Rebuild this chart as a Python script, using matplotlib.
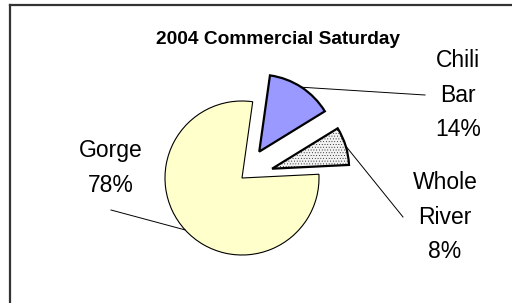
import numpy as np
import matplotlib
matplotlib.use("Agg")
import matplotlib.pyplot as plt
from matplotlib.lines import Line2D

plt.rcParams["font.family"] = ["Liberation Sans", "DejaVu Sans"]
plt.rcParams["hatch.color"] = "#c8c8c8"
plt.rcParams["hatch.linewidth"] = 0.25

title = "2004 Commercial Saturday"
categories = ["Chili Bar", "Whole River", "Gorge"]
label_lines = ["Chili\nBar\n14%", "Whole\nRiver\n8%", "Gorge\n78%"]
shares = [14, 8, 78]
colors = ["#9999ff", "#f2f2f2", "#ffffcc"]

H = 303


def py(y):
    # pixel row (top-down) -> data y (bottom-up)
    return H - y


fig = plt.figure(figsize=(5.12, 3.03), dpi=100)
ax = fig.add_axes([0, 0, 1, 1])

center = (242, py(178))
radius = 77
explode = [31.5, 31.5, 0.0]  # pie explode is in data units here
wedges, _ = ax.pie(shares, colors=colors, explode=explode, startangle=82,
                   counterclock=False, center=center, radius=radius,
                   wedgeprops=dict(edgecolor="black"))
wedges[0].set_linewidth(1.6)
wedges[1].set_linewidth(1.6)
wedges[1].set_hatch("......")
wedges[2].set_linewidth(0.8)

ax.set_xlim(0, 512)
ax.set_ylim(0, H)
ax.axis("off")

ax.text(278, py(39), title, ha="center", va="center", fontsize=13.8,
        fontweight="bold")

# label block centres and where the leader lines leave the text
text_pos = [(458, py(95)), (445, py(217)), (111, py(168))]
leader_end = [(425, py(95)), (403, py(217)), (111, py(210))]

for w, lab, (tx, ty), (lx, ly) in zip(wedges, label_lines, text_pos, leader_end):
    ax.text(tx, ty, lab, ha="center", va="center", fontsize=16.5,
            linespacing=1.62)
    mid = np.deg2rad((w.theta1 + w.theta2) / 2)
    cx, cy = w.center
    ex = cx + w.r * np.cos(mid)
    ey = cy + w.r * np.sin(mid)
    ax.plot([ex, lx], [ey, ly], color="black", lw=0.7)

# chart frame (only top and left edges fall inside the picture)
fig.add_artist(Line2D([10 / 512, 1], [py(5) / H, py(5) / H], color="#333333",
                      lw=1.6, transform=fig.transFigure))
fig.add_artist(Line2D([10 / 512, 10 / 512], [py(5) / H, 0], color="#333333",
                      lw=1.6, transform=fig.transFigure))

fig.savefig("out.png", dpi=100)
